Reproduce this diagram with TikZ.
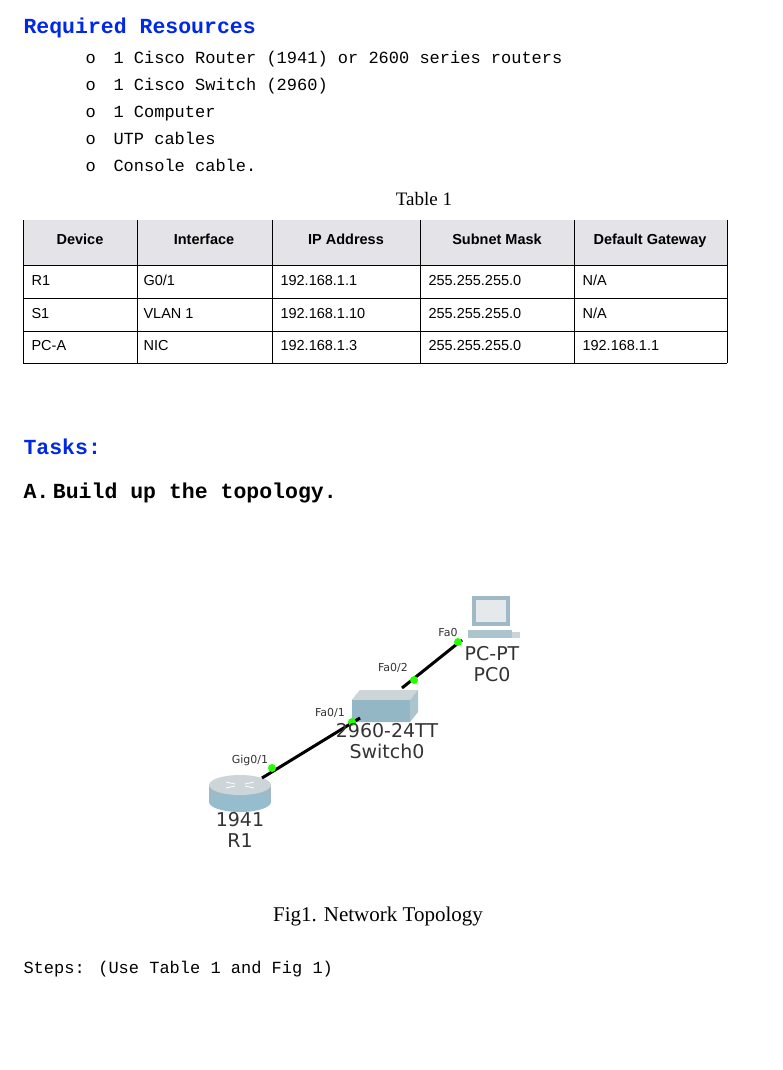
\documentclass[tikz,border=0pt]{standalone}
\usepackage{fontspec}
\setmainfont{Liberation Serif}
\newfontfamily\mono{Liberation Mono}
\newfontfamily\arial{Liberation Sans}
\newfontfamily\pt{DejaVu Sans}
\begin{document}
\begin{tikzpicture}[x=1pt,y=-1pt,
  hdr/.style={anchor=west,font=\mono\bfseries\fontsize{21.5}{22}\selectfont},
  item/.style={anchor=west,font=\mono\fontsize{17}{18}\selectfont,text height=10pt,text depth=3pt},
  cell/.style={anchor=west,font=\arial\fontsize{14.5}{15}\selectfont,text height=10pt,text depth=3pt},
  hcell/.style={font=\arial\bfseries\fontsize{14.5}{15}\selectfont,text height=10pt,text depth=3pt},
  lbl/.style={font=\pt\fontsize{11}{12}\selectfont,text=black!80},
  dev/.style={font=\pt\fontsize{19}{21}\selectfont,text=black!80,align=center},
  dot/.style={circle,fill=green!80!lime,inner sep=0pt,minimum size=8pt},
  cab/.style={line width=3pt,black}]
\useasboundingbox (0,0) rectangle (782,1070);
\definecolor{hb}{RGB}{0,40,230}
\node[hdr,text=hb] (h1) at (20,28) {Required Resources};
\foreach \y/\t in {60/{1 Cisco Router (1941) or 2600 series routers},87/{1 Cisco Switch (2960)},114/{1 Computer},141/{UTP cables},168/{Console cable.}}{
  \node[item] at (82,\y) {o};
  \node[item] at (110,\y) {\t};}
\node[font=\fontsize{19}{20}\selectfont] (cap) at (424,199) {Table 1};
% table
\fill[blue!8!gray!20] (23,220) rectangle (727,265);
\draw (23,265) -- (727,265);
\foreach \y in {298,331,363} \draw (23,\y) -- (727,\y);
\foreach \x in {23,137,272,420,574,727} \draw (\x,220) -- (\x,363);
\node[hcell] at (80,241) {Device};
\node[hcell] at (204,241) {Interface};
\node[hcell] at (346,241) {IP Address};
\node[hcell] at (497,241) {Subnet Mask};
\node[hcell] at (650,241) {Default Gateway};
\foreach \y/\a/\b/\c/\d/\e in {282/R1/{G0/1}/192.168.1.1/255.255.255.0/{N/A},315/S1/VLAN 1/192.168.1.10/255.255.255.0/{N/A},347/PC-A/NIC/192.168.1.3/255.255.255.0/192.168.1.1}{
  \node[cell] at (28,\y) {\a};
  \node[cell] at (140,\y) {\b};
  \node[cell] at (277,\y) {\c};
  \node[cell] at (425,\y) {\d};
  \node[cell] at (579,\y) {\e};}
\node[hdr,text=hb] (t) at (20,447) {Tasks:};
\node[hdr] (a) at (20,493) {A.\,Build up the topology.};
% router
\begin{scope}[shift={(240,792)}]
\fill[cyan!30!gray!70] (-31,-7) rectangle (31,10);
\fill[cyan!40!gray!70] (0,10) ellipse (31 and 10);
\fill[cyan!15!gray!40] (0,-7) ellipse (31 and 10);
\draw[white,thick] (-14,-10)--(-5,-8) (14,-4)--(5,-6) (14,-10)--(5,-8) (-14,-4)--(-5,-6);
\end{scope}
% switch
\fill[cyan!30!gray!60] (360,690) -- (418,690) -- (418,712) -- (410,722) -- (352,722) -- (352,700) -- cycle;
\fill[cyan!15!gray!40] (360,690) -- (418,690) -- (410,700) -- (352,700) -- cycle;
\fill[cyan!35!gray!75] (352,700) rectangle (410,722);
% PC
\fill[cyan!30!gray!70] (472,596) rectangle (510,626);
\fill[cyan!10!gray!20] (476,600) rectangle (506,622);
\fill[cyan!30!gray!60] (468,630) rectangle (512,638);
\fill[cyan!20!gray!40] (512,632) rectangle (520,638);
\coordinate (rt) at (262,778);
\coordinate (s1) at (360,718);
\coordinate (s2) at (402,688);
\coordinate (pc) at (462,640);
\draw[cab] (rt) -- (s1);
\draw[cab] (s2) -- (pc);
\node[dot] (d1) at (272,768) {};
\node[dot] (d2) at (352,722) {};
\node[dot] (d3) at (414,680) {};
\node[dot] (d4) at (458,642) {};
\node[lbl] at (250,760) {Gig0/1};
\node[lbl] at (330,713) {Fa0/1};
\node[lbl] at (393,668) {Fa0/2};
\node[lbl] at (448,632) {Fa0};
\node[dev] at (492,664) {PC-PT\\PC0};
\node[dev] at (387,741) {2960-24TT\\Switch0};
\node[dev] at (240,830) {1941\\R1};
\node[font=\fontsize{21}{22}\selectfont] (fig) at (378,916) {Fig1. Network Topology};
\node[item] (st) at (20,970) {Steps: (Use Table 1 and Fig 1)};
\end{tikzpicture}
\end{document}
